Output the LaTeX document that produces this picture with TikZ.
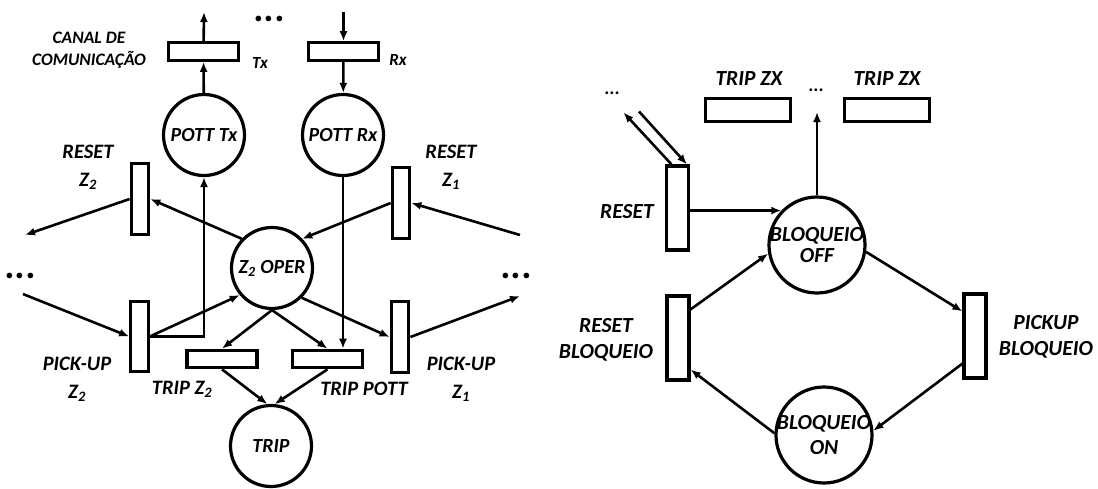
\documentclass[tikz,border=0pt]{standalone}
\usepackage{fontspec}
\setmainfont{Carlito}
\usetikzlibrary{arrows.meta,calc}
\begin{document}
\begin{tikzpicture}[x=1pt,y=-1pt,
  place/.style={circle,draw,line width=3.2pt,minimum size=81pt,inner sep=0pt,font=\fontsize{20}{24}\selectfont\bfseries\itshape},
  bplace/.style={circle,draw,line width=3.2pt,minimum size=96pt,inner sep=0pt},
  hbox/.style={draw,line width=3.2pt,minimum width=70pt,minimum height=17.5pt,inner sep=0pt},
  hboxb/.style={draw,line width=3.2pt,minimum width=85pt,minimum height=23pt,inner sep=0pt},
  vbox/.style={draw,line width=3.2pt,minimum width=17.5pt,minimum height=70.5pt,inner sep=0pt},
  vboxb/.style={draw,line width=3.2pt,minimum width=22pt,minimum height=84pt,inner sep=0pt},
  arr/.style={line width=2.6pt,-{Latex[length=10pt,width=8pt]}},
  lbl/.style={align=center,inner sep=0pt,font=\fontsize{20.5}{28}\selectfont\bfseries\itshape},
  lblb/.style={align=center,inner sep=0pt,font=\fontsize{21.5}{26}\selectfont\bfseries\itshape},
  canal/.style={align=center,inner sep=0pt,font=\fontsize{17.5}{22}\selectfont\bfseries\itshape},
  small/.style={inner sep=0pt,font=\fontsize{17}{18}\selectfont\bfseries\itshape},
  bigdots/.style={inner sep=0pt,font=\fontsize{38}{38}\selectfont\bfseries\itshape},
  smalldots/.style={inner sep=0pt,font=\fontsize{19}{19}\selectfont\bfseries},
]
\useasboundingbox (0,0) rectangle (1098,488);

% ---------- left diagram ----------
\node[hbox] (tx) at (203.5,51.5) {};
\node[hbox] (rx) at (343.5,51.5) {};
\node[place] (ptx) at (204,135) {POTT Tx};
\node[place] (prx) at (343,135) {POTT Rx};
\node[vbox] (rz2) at (140,199) {};
\node[vbox] (rz1) at (401,203) {};
\node[place] (zop) at (272,268) {Z\textsubscript{2} OPER};
\node[vbox] (pz2) at (139.5,336.5) {};
\node[vbox] (pz1) at (400,337) {};
\node[hbox] (tz2) at (222,359) {};
\node[hbox] (tp) at (327.5,359) {};
\node[place] (trip) at (271,446) {TRIP};

\coordinate (outTx) at (204,12);
\coordinate (inRx) at (343.5,12);
\coordinate (lA) at (25,235);
\coordinate (lB) at (23,294);
\coordinate (rA) at (520,235);
\coordinate (rB) at (520,296);

\node[bigdots] (d1) at (270,19) {...};
\node[bigdots] (d2) at (21,276) {...};
\node[bigdots] (d3) at (517,276) {...};

\node[canal] (canal) at (89,50) {CANAL DE\\COMUNICAÇÃO};
\node[small] (ltx) at (260,63) {Tx};
\node[small] (lrx) at (398,60) {Rx};
\node[lbl] (lrz2) at (88,167) {RESET\\Z\textsubscript{2}};
\node[lbl] (lrz1) at (451,167) {RESET\\Z\textsubscript{1}};
\node[lbl] (lpz2) at (77,379) {PICK-UP\\Z\textsubscript{2}};
\node[lbl] (lpz1) at (461,379) {PICK-UP\\Z\textsubscript{1}};
\node[lbl] (ltz2) at (182,389) {TRIP Z\textsubscript{2}};
\node[lbl] (ltp) at (364,389) {TRIP POTT};

\draw[arr] (ptx) -- (tx);
\draw[arr] (tx) -- (outTx);
\draw[arr] (inRx) -- (rx);
\draw[arr] (rx) -- (prx);
\draw[arr] (zop.136) -- (rz2.east);
\draw[arr] (rz2.west) -- (lA);
\draw[arr] (rA) -- (rz1.east);
\draw[arr] (rz1.west) -- (zop.44);
\draw[arr] (lB) -- (pz2.west);
\draw[arr] (pz2.east) -- (zop.220);
\draw[arr] (pz2.east) -| (ptx.south);
\draw[arr] (zop.315) -- (pz1.west);
\draw[arr] (pz1.east) -- (rB);
\draw[arr] (zop.south) -- (tz2.north);
\draw[arr] (zop.south) -- (tp.north);
\draw[arr] (prx.south) -- (prx.south |- tp.north);
\draw[arr] (tz2.south) -- (trip.95);
\draw[arr] (tp.south) -- (trip.85);

% ---------- right diagram ----------
\node[vboxb] (rst) at (677.5,208) {};
\node[vboxb] (rb) at (678,338) {};
\node[vboxb] (pk) at (975,336) {};
\node[bplace] (boff) at (817,245) {};
\node[bplace] (bon) at (824,435) {};
\node[hboxb] (tzx1) at (748,110) {};
\node[hboxb] (tzx2) at (887,110) {};

\node[lblb] (ltzx1) at (749,79) {TRIP ZX};
\node[lblb] (ltzx2) at (887,79) {TRIP ZX};
\node[smalldots] (d4) at (612,93) {...};
\node[smalldots] (d5) at (816,90) {...};
\node[lblb] (lrst) at (627,212) {RESET};
\node[lblb] (lrb) at (606,340) {RESET\\BLOQUEIO};
\node[lblb] (lpk) at (1046,337) {PICKUP\\BLOQUEIO};
\node[align=center,inner sep=0pt,font=\fontsize{21.5}{21}\selectfont\bfseries\itshape] (tboff) at (boff) {BLOQUEIO\\OFF};
\node[align=center,inner sep=0pt,font=\fontsize{21.5}{25}\selectfont\bfseries\itshape] (tbon) at (bon) {BLOQUEIO\\ON};

\coordinate (ua) at (623.5,112.5);
\coordinate (ub) at (639,111.5);
\coordinate (up) at (817,112);

\draw[arr] ($(rst.north)+(-6,0)$) -- (ua);
\draw[arr] (ub) -- ($(rst.north)+(9.5,0)$);
\draw[arr] (boff.136 -| rst.east) -- (boff.136);
\draw[arr] (boff) -- (up);
\draw[arr] ($(rb.north east)+(0,15)$) -- (boff.190);
\draw[arr] (boff.-8) -- ($(pk.north west)+(0,19)$);
\draw[arr] ($(pk.south west)+(0,-16)$) -- (bon.5);
\draw[arr] (bon.178) -- ($(rb.south east)+(0,-12)$);
\end{tikzpicture}
\end{document}
